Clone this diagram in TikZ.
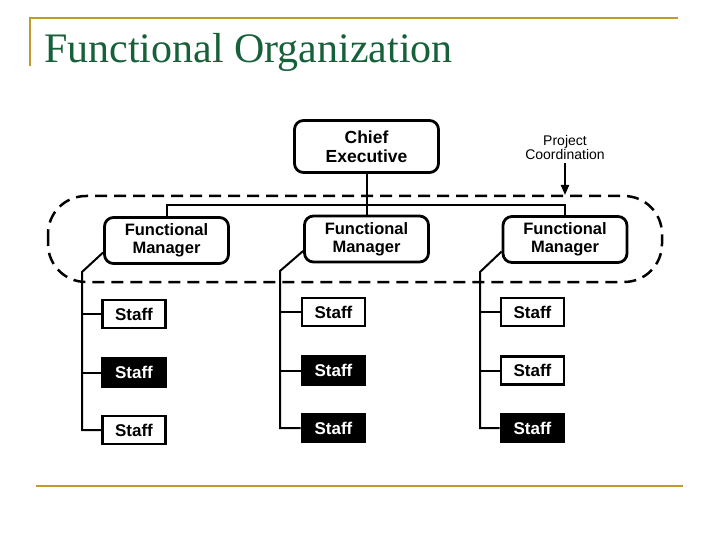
\documentclass[tikz,border=0pt]{standalone}
\usepackage{fontspec}
\setmainfont{Liberation Serif}
\newfontfamily\orgfont{Liberation Sans}
\usepackage{xcolor}
\usepackage{tikz}
\usetikzlibrary{positioning,arrows.meta}
\definecolor{cTitle}{HTML}{17603A}
\definecolor{cGold}{HTML}{BF9A2C}
\tikzset{
  >=Stealth,
  nd/.style={draw,line width=2.8pt,align=center,font=\orgfont\bfseries\fontsize{16.5}{18}\selectfont},
  boss/.style={nd,rounded corners=9pt,minimum width=144pt,minimum height=52pt,
               font=\orgfont\bfseries\fontsize{17.5}{19}\selectfont},
  mgr/.style={nd,rounded corners=9pt,minimum width=124pt,minimum height=46pt},
  staffw/.style={nd,fill=white,minimum width=63pt,minimum height=28pt,font=\orgfont\bfseries\fontsize{17}{19}\selectfont},
  staffb/.style={staffw,fill=black,text=white},
  link/.style={line width=2pt},
  grp/.style={line width=2.5pt,dash pattern=on 12pt off 7pt,rounded corners=38pt},
  rule/.style={cGold,line width=2.8pt},
}
\begin{document}
\begin{tikzpicture}[x=1pt,y=-1pt]
  \useasboundingbox (0,0) rectangle (720,540);
  % --- title ---
  \draw[rule] (30,66) -- (30,18) -- (678,18);
  \node[anchor=base west,inner sep=0pt,text=cTitle,font=\fontsize{42}{46}\selectfont] (title) at (44,63) {Functional Organization};
  \draw[rule] (36,486) -- (683,486);
  % --- top ---
  \node[boss] (chief) at (366.5,146.5) {Chief\\Executive};
  \node[align=center,inner sep=0pt,font=\orgfont\fontsize{14}{14}\selectfont] (proj) at (565,147) {Project\\Coordination};
  % --- managers ---
  \node[mgr] (m1) at (166.5,240.5) {Functional\\Manager};
  \node[mgr] (m2) at (366.5,239) {Functional\\Manager};
  \node[mgr] (m3) at (565,239.5) {Functional\\Manager};
  \draw[grp] (48,196) rectangle (662,282);
  \coordinate (bus) at (366.5,205);
  \draw[link] (chief.south) -- (bus);
  \draw[link] (m1.north) |- (bus) -| (m3.north);
  \draw[link] (m2.north) -- (m2.north |- bus);
  \coordinate (pc) at (565,195);
  \draw[link,-{Triangle[length=10pt,width=8pt]}] (proj.south) ++(0,-4pt) -- (pc);
  % --- staff ---
  \node[staffw] (s11) at (134,314) {Staff};
  \node[staffb,below=27.7pt of s11] (s12) {Staff};
  \node[staffw,below=26.7pt of s12] (s13) {Staff};
  \node[staffw] (s21) at (333.5,312) {Staff};
  \node[staffb,below=27.7pt of s21] (s22) {Staff};
  \node[staffb,below=26.7pt of s22] (s23) {Staff};
  \node[staffw] (s31) at (532.5,312) {Staff};
  \node[staffw,below=27.7pt of s31] (s32) {Staff};
  \node[staffb,below=26.7pt of s32] (s33) {Staff};
  % --- staff lines ---
  \coordinate (k1) at (82,272);
  \coordinate (k2) at (280,271);
  \coordinate (k3) at (480,272);
  \draw[link] ([yshift=-12pt]m1.west) -- (k1) |- (s13.west);
  \draw[link] (s11.west) -- (s11.west -| k1);
  \draw[link] (s12.west) -- (s12.west -| k1);
  \draw[link] ([yshift=-12pt]m2.west) -- (k2) |- (s23.west);
  \draw[link] (s21.west) -- (s21.west -| k2);
  \draw[link] (s22.west) -- (s22.west -| k2);
  \draw[link] ([yshift=-12pt]m3.west) -- (k3) |- (s33.west);
  \draw[link] (s31.west) -- (s31.west -| k3);
  \draw[link] (s32.west) -- (s32.west -| k3);
\end{tikzpicture}
\end{document}
